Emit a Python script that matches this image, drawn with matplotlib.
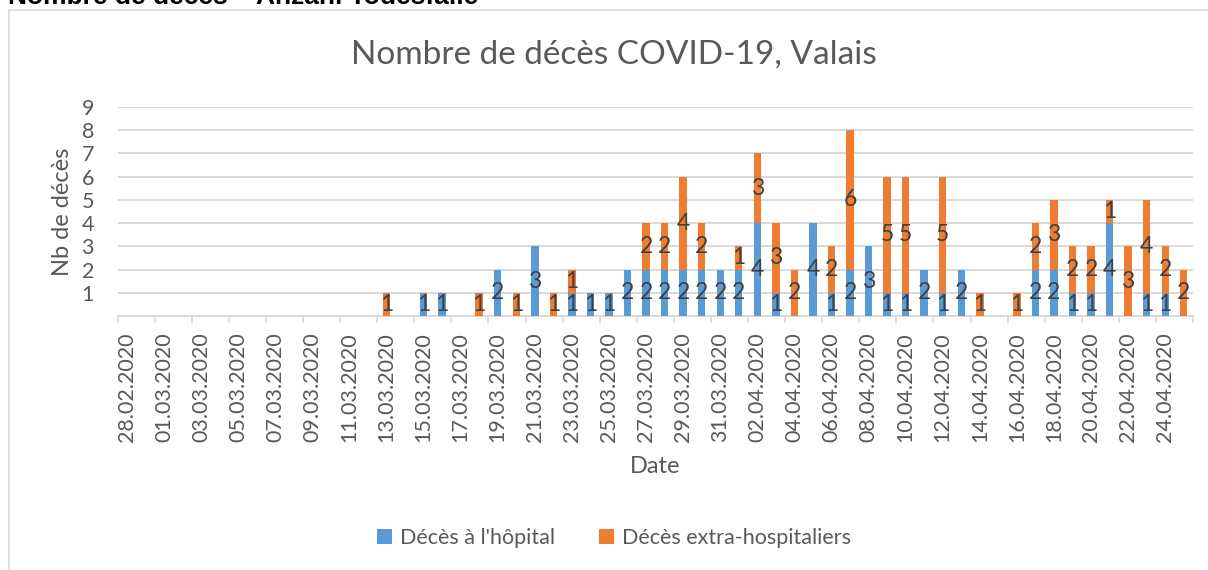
import numpy as np
import pandas as pd
import matplotlib
matplotlib.use("Agg")
import matplotlib.pyplot as plt
from matplotlib.lines import Line2D

# Data: daily deaths in Valais, 28.02.2020 - 25.04.2020
dates = pd.date_range("2020-02-28", "2020-04-25", freq="D")
date_labels = [d.strftime("%d.%m.%Y") for d in dates]

hospital = [0, 0, 0, 0, 0, 0, 0, 0, 0, 0,
            0, 0, 0, 0, 0, 0, 1, 1, 0, 0,
            2, 0, 3, 0, 1, 1, 1, 2, 2, 2,
            2, 2, 2, 2, 4, 1, 0, 4, 1, 2,
            3, 1, 1, 2, 1, 2, 0, 0, 0, 2,
            2, 1, 1, 4, 0, 1, 1, 0]
extra = [0, 0, 0, 0, 0, 0, 0, 0, 0, 0,
         0, 0, 0, 0, 1, 0, 0, 0, 0, 1,
         0, 1, 0, 1, 1, 0, 0, 0, 2, 2,
         4, 2, 0, 1, 3, 3, 2, 0, 2, 6,
         0, 5, 5, 0, 5, 0, 1, 0, 1, 2,
         3, 2, 2, 1, 3, 4, 2, 2]

series_names = ["Décès à l'hôpital", "Décès extra-hospitaliers"]
blue = "#5B9BD5"
orange = "#ED7D31"
text_grey = "#595959"
grid_grey = "#D9D9D9"

plt.rcParams["font.family"] = ["Lato", "DejaVu Sans"]

fig = plt.figure(figsize=(12.08, 5.70), dpi=100)
ax = fig.add_axes([0.0974, 0.4456, 0.8902, 0.3667])

x = np.arange(len(dates))
hosp = np.array(hospital)
extr = np.array(extra)
b1 = ax.bar(x, hosp, width=0.4, color=blue, label=series_names[0], zorder=3)
b2 = ax.bar(x, extr, width=0.4, bottom=hosp, color=orange, label=series_names[1], zorder=3)

# data labels in the middle of each segment, skip empty values
for i in x:
    if hosp[i] > 0:
        ax.text(i, hosp[i] / 2, str(hosp[i]), ha="center", va="center",
                fontsize=16.5, color="#404040", zorder=4)
    if extr[i] > 0:
        ax.text(i, hosp[i] + extr[i] / 2, str(extr[i]), ha="center", va="center",
                fontsize=16.5, color="#404040", zorder=4)

ax.set_xlim(-0.5, len(dates) - 0.5)
ax.set_ylim(0, 9)
ax.set_yticks(range(1, 10))
ax.yaxis.grid(True, color=grid_grey, linewidth=1.4, zorder=0)
ax.tick_params(axis="y", length=0, pad=17, labelsize=15.5, labelcolor=text_grey)

ax.set_xticks(x[::2])
ax.set_xticklabels(date_labels[::2], rotation=90)
ax.set_xticks(np.arange(-0.5, len(dates), 2), minor=True)
ax.tick_params(axis="x", which="major", length=0, pad=12, labelsize=15.5, labelcolor=text_grey)
ax.tick_params(axis="x", which="minor", length=5, width=1.2, color=grid_grey)

for s in ["top", "right", "left"]:
    ax.spines[s].set_visible(False)
ax.spines["bottom"].set_color(grid_grey)
ax.spines["bottom"].set_linewidth(1.4)

ax.set_ylabel("Nb de décès", fontsize=17, color=text_grey, labelpad=6)
ax.set_xlabel("Date", fontsize=17, color=text_grey, labelpad=10)

fig.text(0.5083, 1 - 55 / 570, "Nombre de décès COVID-19, Valais", ha="center", va="center",
         fontsize=24, color=text_grey)

ax.legend(handles=[b1, b2], loc="center", ncol=2, frameon=False, fontsize=15.5,
          labelcolor=text_grey, handlelength=0.7, handleheight=0.7, handletextpad=0.4,
          columnspacing=2.0)
ax.get_legend().set_bbox_to_anchor((0.5083, 1 - 538 / 570), transform=fig.transFigure)

# chart frame and the cut-off heading above it
fig.add_artist(Line2D([8.5 / 1208, 8.5 / 1208], [0, 1 - 9.5 / 570], color=grid_grey, linewidth=1.2))
fig.add_artist(Line2D([8.5 / 1208, 1], [1 - 9.5 / 570, 1 - 9.5 / 570], color=grid_grey, linewidth=1.2))
fig.text(8 / 1208, 1 - 4 / 570, "Nombre de décès – Anzahl Todesfälle", ha="left", va="baseline",
         fontsize=19, fontweight="bold", color="black", family=["Liberation Sans", "DejaVu Sans"])

fig.savefig("out.png", dpi=100)
